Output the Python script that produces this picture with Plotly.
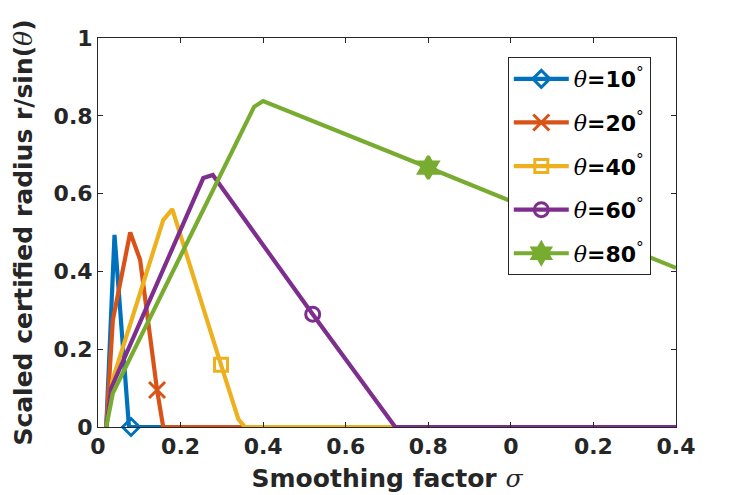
import plotly.graph_objects as go

# sigma values and scaled radius for each theta
x10 = [0.02, 0.04, 0.075, 1.4]
y10 = [0, 0.494, 0, 0]
x20 = [0.02, 0.036, 0.078, 0.102, 0.143, 0.158, 1.4]
y20 = [0, 0.275, 0.5, 0.43, 0.095, 0, 0]
x40 = [0.02, 0.035, 0.158, 0.18, 0.298, 0.34, 0.356, 1.4]
y40 = [0, 0.12, 0.532, 0.56, 0.16, 0.02, 0, 0]
x60 = [0.02, 0.032, 0.255, 0.278, 0.52, 0.70, 0.72, 1.4]
y60 = [0, 0.10, 0.64, 0.648, 0.29, 0.03, 0, 0]
x80 = [0.02, 0.036, 0.378, 0.40, 0.80, 1.4]
y80 = [0, 0.087, 0.823, 0.838, 0.667, 0.409]

# where the single marker of each curve sits
mark_x = [0.08, 0.143, 0.298, 0.52, 0.80]
mark_y = [0, 0.095, 0.16, 0.29, 0.667]

thetas = ['10', '20', '40', '60', '80']
colors = ['#0072BD', '#D95319', '#EDB120', '#7E2F8E', '#77AC30']
symbols = ['diamond-open', 'x-thin-open', 'square-open', 'circle-open', 'hexagram']
msizes = [13, 16, 13, 14, 17]

xs = [x10, x20, x40, x60, x80]
ys = [y10, y20, y40, y60, y80]

xtick_vals = [0, 0.2, 0.4, 0.6, 0.8, 1.0, 1.2, 1.4]
xtick_text = ['0', '0.2', '0.4', '0.6', '0.8', '0', '0.2', '0.4']
ytick_vals = [0, 0.2, 0.4, 0.6, 0.8, 1]
ytick_text = ['0', '0.2', '0.4', '0.6', '0.8', '1']

TH = "<span style='font-family:DejaVu Serif;font-style:italic;font-weight:normal'>θ</span>"
SG = "<span style='font-family:DejaVu Serif;font-style:italic;font-weight:normal'>σ</span>"
INK = '#262626'

fig = go.Figure()
for i in range(5):
    fig.add_trace(go.Scatter(x=xs[i], y=ys[i], mode='lines', showlegend=False,
                             line=dict(color=colors[i], width=4.2), cliponaxis=False))
for i in range(5):
    fig.add_trace(go.Scatter(x=[mark_x[i]], y=[mark_y[i]], mode='markers', showlegend=False,
                             cliponaxis=False,
                             marker=dict(symbol=symbols[i], size=msizes[i], color=colors[i],
                                         line=dict(color=colors[i], width=3))))
for i in range(5):
    fig.add_trace(go.Scatter(x=[None], y=[None], mode='lines+markers',
                             name=TH + '<b>=' + thetas[i] + '</b><sup>°</sup>',
                             legendgroup='g' + str(i),
                             line=dict(color=colors[i], width=4.2),
                             marker=dict(symbol=symbols[i], size=msizes[i], color=colors[i],
                                         line=dict(color=colors[i], width=3))))

fig.update_xaxes(range=[0, 1.4], tickvals=xtick_vals, ticktext=['<b>' + t + '</b>' for t in xtick_text],
                 ticks='inside', ticklen=5, tickcolor=INK, mirror='ticks', automargin=False,
                 showline=True, linecolor=INK, linewidth=1, showgrid=False, zeroline=False,
                 tickfont=dict(family='DejaVu Sans', size=22, color=INK),
                 title=dict(text='<b>Smoothing factor </b>' + SG, standoff=11,
                            font=dict(family='DejaVu Sans', size=25, color=INK)))
fig.update_yaxes(range=[0, 1], tickvals=ytick_vals, ticktext=['<b>' + t + '</b>' for t in ytick_text],
                 ticks='inside', ticklen=5, tickcolor=INK, mirror='ticks', automargin=False,
                 showline=True, linecolor=INK, linewidth=1, showgrid=False, zeroline=False,
                 tickfont=dict(family='DejaVu Sans', size=22, color=INK),
                 title=dict(text='<b>Scaled certified radius r/sin(</b>' + TH + '<b>)</b>', standoff=13,
                            font=dict(family='DejaVu Sans', size=25, color=INK)))

# page body adds 8px, so the figure is a bit smaller than the window
fig.update_layout(width=740, height=487, plot_bgcolor='white', paper_bgcolor='white',
                  margin=dict(l=90, r=72, t=30, b=68),
                  legend=dict(x=0.709, y=0.951, xanchor='left', yanchor='top',
                              bgcolor='white', bordercolor=INK, borderwidth=1,
                              traceorder='grouped', tracegroupgap=12, itemwidth=55,
                              font=dict(family='DejaVu Sans', size=22, color='black')))

fig.write_html("out.html")
